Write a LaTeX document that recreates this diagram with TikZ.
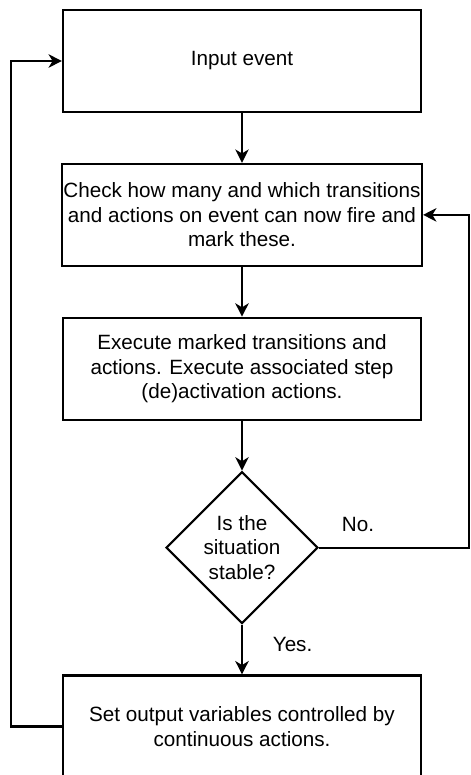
\documentclass[tikz,border=0pt]{standalone}
\usepackage{fontspec}
\setmainfont{Liberation Sans}
\usetikzlibrary{positioning,shapes.geometric,arrows.meta}

\begin{document}
\begin{tikzpicture}[x=0.75pt,y=-0.75pt,
  node distance=37.3pt,
  font=\fontsize{15.5}{18.5}\selectfont,
  every path/.style={line width=1.6pt},
  procbox/.style={draw,line width=1.6pt,minimum width=268.5pt,minimum height=76.5pt,align=center,inner sep=1pt},
  decision/.style={draw,line width=1.6pt,diamond,aspect=1,minimum width=114pt,minimum height=114pt,align=center,inner sep=0pt},
  flow/.style={-{Stealth[length=10pt,width=10pt,inset=3pt]},line width=1.6pt}]

\useasboundingbox (0,0) rectangle (471,775);

\node[procbox] (input) at (242,61) {Input event};
\node[procbox,below=of input] (check) {Check how many and which transitions\\and actions on event can now fire and\\mark these.};
\node[procbox,below=of check] (exec) {Execute marked transitions and\\actions. Execute associated step\\(de)activation actions.};
\node[decision,below=of exec] (stable) {Is the\\situation\\stable?};
\node[procbox,below=of stable] (output) {Set output variables controlled by\\continuous actions.};

\draw[flow] (input) -- (check);
\draw[flow] (check) -- (exec);
\draw[flow] (exec) -- (stable);
\draw[flow] (stable) -- node[pos=0.4,right=19pt] (yes) {Yes.} (output);

% loops back
\draw[flow] (stable.east) -- node[pos=0.26,above=8pt] (no) {No.} ++(150,0) |- (check.east);
\draw[flow] (output.west) -- ++(-51,0) |- (input.west);

\end{tikzpicture}
\end{document}
